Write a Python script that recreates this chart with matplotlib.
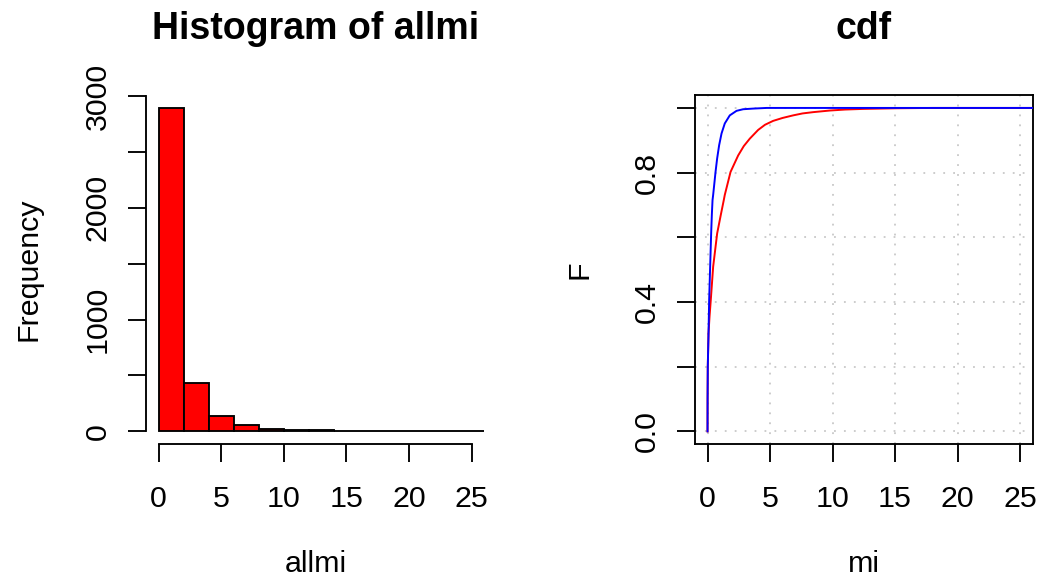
import numpy as np
import matplotlib
matplotlib.use("Agg")
import matplotlib.pyplot as plt

plt.rcParams['font.family'] = ['Liberation Sans', 'DejaVu Sans']

# histogram of allmi (bin edges and counts)
bin_edges = [0, 2, 4, 6, 8, 10, 12, 14, 16, 18, 20, 22, 24, 26]
bin_counts = [2893, 437, 140, 54, 24, 15, 9, 5, 3, 2, 1, 2, 1]
hist_yticks = [0, 500, 1000, 1500, 2000, 2500, 3000]
hist_ylabels = ['0', '', '1000', '', '2000', '', '3000']

# cdf curves (red: empirical, blue: second curve)
red_mi = [0, 0.005, 0.02, 0.08, 0.16, 0.26, 0.45, 0.77, 1.06, 1.30, 1.38, 1.84,
          2.45, 2.9, 3.38, 4.05, 4.6, 5.25, 6.0, 6.85, 7.6, 8.45, 9.79, 11.0,
          12.45, 15.1, 18.0, 25.06]
red_F = [0, 0.10, 0.20, 0.304, 0.355, 0.406, 0.509, 0.612, 0.669, 0.715, 0.731, 0.802,
         0.853, 0.882, 0.905, 0.932, 0.948, 0.960, 0.969, 0.977, 0.983, 0.987, 0.992, 0.995,
         0.997, 0.999, 1.0, 1.0]
blue_mi = [0, 0.005, 0.02, 0.08, 0.13, 0.21, 0.29, 0.344, 0.40, 0.45, 0.56, 0.64, 0.77,
           0.93, 1.12, 1.38, 1.78, 2.32, 2.85, 3.65, 4.72, 25.06]
blue_F = [0, 0.10, 0.20, 0.304, 0.406, 0.509, 0.612, 0.669, 0.715, 0.731, 0.772, 0.802, 0.844,
          0.885, 0.921, 0.952, 0.977, 0.991, 0.996, 0.998, 1.0, 1.0]
x_ticks = [0, 5, 10, 15, 20, 25]
cdf_yticks = [0, 0.2, 0.4, 0.6, 0.8, 1.0]
cdf_ylabels = ['0.0', '', '0.4', '', '0.8', '']

W, H = 1040, 578
fs = 21.9
lw = 1.35
xmax = max(red_mi)
xlim = (-0.04 * xmax, 1.04 * xmax)

fig = plt.figure(figsize=(W / 100, H / 100), dpi=100)

def px_axes(x0, x1, y0, y1):
    return fig.add_axes([x0 / W, 1 - y1 / H, (x1 - x0) / W, (y1 - y0) / H])

tick_kw = dict(direction='out', length=13, width=lw, labelsize=fs, color='black')

# ---- histogram
ax1 = px_axes(146, 485, 95, 444.3)
widths = np.diff(bin_edges)
ax1.bar(bin_edges[:-1], bin_counts, width=widths, align='edge',
        color='#FF0000', edgecolor='black', linewidth=lw)
ax1.set_xlim(*xlim)
top = max(bin_counts)
ax1.set_ylim(-0.04 * top, 1.04 * top)
for s in ['top', 'right']:
    ax1.spines[s].set_visible(False)
ax1.spines['left'].set_bounds(0, 3000)
ax1.spines['bottom'].set_bounds(0, 25)
for s in ['left', 'bottom']:
    ax1.spines[s].set_linewidth(lw)
ax1.set_xticks(x_ticks)
ax1.set_yticks(hist_yticks)
ax1.set_yticklabels(hist_ylabels)
ax1.tick_params(axis='x', pad=16.3, **tick_kw)
ax1.tick_params(axis='y', pad=11.5, labelrotation=90, **tick_kw)
for t in ax1.get_yticklabels():
    t.set_va('center')

# ---- cdf
ax2 = px_axes(695, 1033.3, 95, 444.3)
ax2.set_xlim(*xlim)
ax2.set_ylim(-0.04, 1.04)
for xv in x_ticks:
    ax2.axvline(xv, color='#C8C8C8', lw=1.3, ls=(0, (1, 4.5)), zorder=1)
for yv in cdf_yticks:
    ax2.axhline(yv, color='#C8C8C8', lw=1.3, ls=(0, (1, 4.5)), zorder=1)
# ecdf-style curves run on to the right edge of the plot
ax2.plot(red_mi + [xlim[1]], red_F + [red_F[-1]], color='#FF0000', lw=1.4, zorder=3)
ax2.plot(blue_mi + [xlim[1]], blue_F + [blue_F[-1]], color='#0000FF', lw=1.4, zorder=4)
for s in ax2.spines.values():
    s.set_linewidth(lw)
ax2.set_xticks(x_ticks)
ax2.set_yticks(cdf_yticks)
ax2.set_yticklabels(cdf_ylabels)
ax2.tick_params(axis='x', pad=16.3, **tick_kw)
ax2.tick_params(axis='y', pad=11.5, labelrotation=90, **tick_kw)
for t in ax2.get_yticklabels():
    t.set_va('center')

# ---- titles and axis labels
fig.text(315.5 / W, 1 - 39.3 / H, 'Histogram of allmi', ha='center', va='baseline',
         fontsize=27, fontweight='bold')
fig.text(864 / W, 1 - 39.3 / H, 'cdf', ha='center', va='baseline',
         fontsize=27, fontweight='bold')
fig.text(315.5 / W, 1 - 572.5 / H, 'allmi', ha='center', va='baseline', fontsize=fs)
fig.text(864 / W, 1 - 572.5 / H, 'mi', ha='center', va='baseline', fontsize=fs)
fig.text(28.8 / W, 1 - 269.7 / H, 'Frequency', ha='center', va='center',
         rotation=90, fontsize=fs)
fig.text(579 / W, 1 - 269.7 / H, 'F', ha='center', va='center',
         rotation=90, fontsize=fs)

fig.savefig('out.png', dpi=100)
